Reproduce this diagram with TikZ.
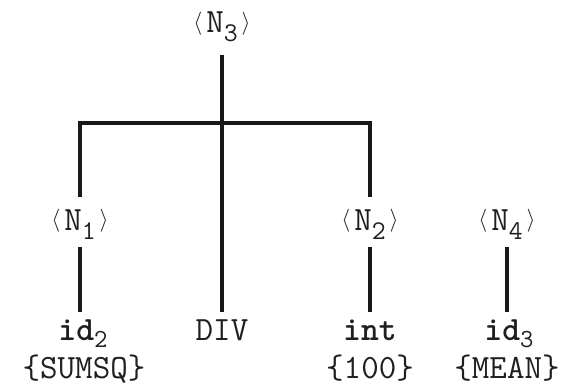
\documentclass[tikz,border=0pt]{standalone}
\usetikzlibrary{calc}
\usepackage{graphicx}
\newcommand\myl{\makebox[17pt]{\raisebox{3.5pt}{\normalsize\scalebox{2.3}{$\langle$}}}}
\newcommand\myr{\makebox[17pt]{\raisebox{3.5pt}{\normalsize\scalebox{2.3}{$\rangle$}}}}
\newcommand\mysub[1]{\raisebox{-9pt}{\fontsize{27}{27}\selectfont #1}}
\newcommand\mysubb[1]{\raisebox{-7pt}{\fontsize{26}{26}\selectfont #1}}
\newcommand\mynt[1]{\myl N\mysub{#1}\myr}
\begin{document}
\begin{tikzpicture}[x=1pt,y=-1pt,
  lbl/.style={font=\fontsize{34}{34}\selectfont\ttfamily, inner sep=0pt, anchor=base, text=black!88},
  tl/.style={line width=4.5pt, black!90, line cap=butt, line join=miter}]
\useasboundingbox[fill=white] (0,0) rectangle (585,387);
% labels
\node[lbl] (n3) at (222,33) {\mynt{3}};
\node[lbl] (n1) at (80,230) {\mynt{1}};
\node[lbl] (n2) at (370,230) {\mynt{2}};
\node[lbl] (n4) at (507,230) {\mynt{4}};
\node[lbl] (id2) at (83,340) {\textbf{id}\mysubb{2}};
\node[lbl] (div) at (222,340) {DIV};
\node[lbl] (int) at (370,340) {\textbf{int}};
\node[lbl] (id3) at (509,340) {\textbf{id}\mysubb{3}};
\node[lbl] (v2) at (84,378) {\{SUMSQ\}};
\node[lbl] (v100) at (370,378) {\{100\}};
\node[lbl] (vmean) at (507,378) {\{MEAN\}};
\coordinate (bar) at (222,123);
% connectors
\draw[tl] ([yshift=-22pt]n3.base) -- ([yshift=28pt]div.base);
\draw[tl] ([yshift=33pt]n1.base) |- (bar) -| ([yshift=33pt]n2.base);
\draw[tl] ([yshift=-17pt]n1.base) -- ([yshift=28pt]n1.base |- id2.base);
\draw[tl] ([yshift=-17pt]n2.base) -- ([yshift=28pt]int.base);
\draw[tl] ([yshift=-17pt]n4.base) -- ([yshift=28pt]n4.base |- id3.base);
\end{tikzpicture}
\end{document}
